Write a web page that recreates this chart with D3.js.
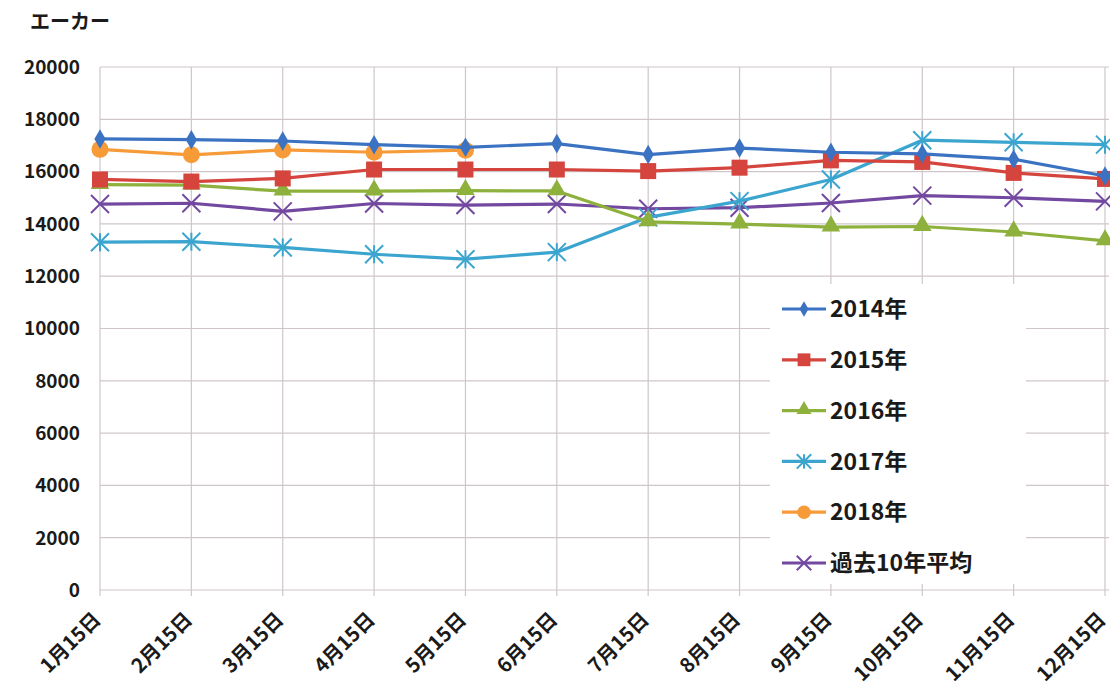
<!DOCTYPE html>
<html lang="ja">
<head>
<meta charset="UTF-8">
<title>エーカー</title>
<style>
  body { margin: 0; background: #ffffff; }
  svg { display: block; font-family: "Noto Sans CJK JP", "Noto Sans", sans-serif; }
</style>
</head>
<body>
<svg id="chart" width="1110" height="693"></svg>
<script src="https://d3js.org/d3.v7.min.js"></script>
<script>
// categories and values
const months = ["1月15日", "2月15日", "3月15日", "4月15日", "5月15日", "6月15日",
                "7月15日", "8月15日", "9月15日", "10月15日", "11月15日", "12月15日"];
const yTicks = [0, 2000, 4000, 6000, 8000, 10000, 12000, 14000, 16000, 18000, 20000];

const v2014 = [17250, 17220, 17170, 17030, 16930, 17070, 16650, 16900, 16740, 16680, 16470, 15830];
const v2015 = [15700, 15620, 15740, 16080, 16080, 16080, 16020, 16150, 16430, 16370, 15950, 15720];
const v2016 = [15500, 15480, 15250, 15250, 15270, 15260, 14080, 13990, 13880, 13900, 13690, 13350];
const v2017 = [13300, 13320, 13100, 12840, 12650, 12920, 14250, 14870, 15700, 17200, 17120, 17030];
const v2018 = [16850, 16640, 16830, 16740, 16820];
const vAvg  = [14760, 14790, 14480, 14780, 14720, 14760, 14580, 14620, 14800, 15080, 15000, 14860];

const series = [
  { name: "2014年", values: v2014, color: "#3b73c2", marker: "diamond" },
  { name: "2015年", values: v2015, color: "#d5453d", marker: "square" },
  { name: "2016年", values: v2016, color: "#8db13c", marker: "triangle" },
  { name: "2017年", values: v2017, color: "#3ba5cf", marker: "star" },
  { name: "2018年", values: v2018, color: "#f79a38", marker: "circle" },
  { name: "過去10年平均", values: vAvg, color: "#7248a0", marker: "cross" }
];

const svg = d3.select("#chart");
const plotLeft = 100, plotRight = 1105, plotTop = 67, plotBottom = 590;

const x = d3.scalePoint().domain(months).range([plotLeft, plotRight]);
const y = d3.scaleLinear().domain([0, 20000]).range([plotBottom, plotTop]);

// gridlines
const grid = svg.append("g").attr("stroke", "#cfc6cc").attr("stroke-width", 1.2);
yTicks.forEach(t => {
  grid.append("line").attr("x1", plotLeft).attr("x2", plotRight + 4)
    .attr("y1", y(t)).attr("y2", y(t));
});
months.forEach(m => {
  grid.append("line").attr("x1", x(m)).attr("x2", x(m))
    .attr("y1", plotTop).attr("y2", plotBottom + 6);
});

// y axis labels
svg.append("g").selectAll("text").data(yTicks).join("text")
  .attr("x", 80).attr("y", d => y(d)).attr("dy", "0.36em")
  .attr("text-anchor", "end").attr("font-size", 19).attr("font-weight", 600)
  .attr("fill", "#1a1a1a").text(d => d);

svg.append("text").attr("x", 30).attr("y", 29)
  .attr("font-size", 20).attr("font-weight", 600).attr("fill", "#1a1a1a").text("エーカー");

// x axis labels, rotated
svg.append("g").selectAll("text").data(months).join("text")
  .attr("transform", d => `translate(${x(d) - 3},${plotBottom + 26}) rotate(-45)`)
  .attr("text-anchor", "end").attr("dy", "0.35em")
  .attr("font-size", 20).attr("font-weight", 700).attr("fill", "#1a1a1a").text(d => d);

// marker shapes
function drawMarker(g, type, cx, cy, color, s) {
  s = s || 1;
  if (type === "diamond") {
    g.append("path").attr("d", d3.symbol(d3.symbolDiamond, 110 * s * s)())
      .attr("transform", `translate(${cx},${cy})`).attr("fill", color);
  } else if (type === "square") {
    g.append("rect").attr("x", cx - 8 * s).attr("y", cy - 8 * s)
      .attr("width", 16 * s).attr("height", 16 * s).attr("fill", color);
  } else if (type === "triangle") {
    g.append("path").attr("d", d3.symbol(d3.symbolTriangle, 150 * s * s)())
      .attr("transform", `translate(${cx},${cy - 1})`).attr("fill", color);
  } else if (type === "circle") {
    g.append("circle").attr("cx", cx).attr("cy", cy).attr("r", 8.5 * s).attr("fill", color);
  } else if (type === "star") {
    const r = 9 * s;
    const p = [[-r, -r, r, r], [-r, r, r, -r], [0, -r, 0, r]];
    p.forEach(q => g.append("line")
      .attr("x1", cx + q[0]).attr("y1", cy + q[1]).attr("x2", cx + q[2]).attr("y2", cy + q[3])
      .attr("stroke", color).attr("stroke-width", 2));
  } else if (type === "cross") {
    const r = 9 * s;
    g.append("line").attr("x1", cx - r).attr("y1", cy - r).attr("x2", cx + r).attr("y2", cy + r)
      .attr("stroke", color).attr("stroke-width", 2);
    g.append("line").attr("x1", cx - r).attr("y1", cy + r).attr("x2", cx + r).attr("y2", cy - r)
      .attr("stroke", color).attr("stroke-width", 2);
  }
}

const line = d3.line().x((d, i) => x(months[i])).y(d => y(d));

// draw from back to front (2014 on top)
series.slice().reverse().forEach(s => {
  const g = svg.append("g");
  g.append("path").datum(s.values).attr("d", line)
    .attr("fill", "none").attr("stroke", s.color).attr("stroke-width", 3.2)
    .attr("stroke-linejoin", "round");
  s.values.forEach((v, i) => drawMarker(g, s.marker, x(months[i]), y(v), s.color));
});

// legend
const legend = svg.append("g");
legend.append("rect").attr("x", 770).attr("y", 284).attr("width", 256).attr("height", 300)
  .attr("fill", "#ffffff");
series.forEach((s, i) => {
  const ly = 309 + i * 50.8;
  legend.append("line").attr("x1", 782).attr("x2", 826).attr("y1", ly).attr("y2", ly)
    .attr("stroke", s.color).attr("stroke-width", 3.2);
  drawMarker(legend, s.marker, 804, ly, s.color, 0.8);
  legend.append("text").attr("x", 830).attr("y", ly).attr("dy", "0.36em")
    .attr("font-size", 23).attr("font-weight", 600).attr("fill", "#1a1a1a").text(s.name);
});
</script>
</body>
</html>
